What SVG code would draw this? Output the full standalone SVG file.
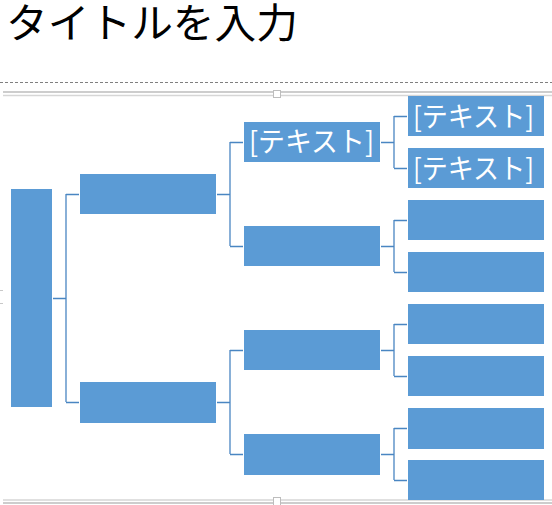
<svg xmlns="http://www.w3.org/2000/svg" width="552" height="505" viewBox="0 0 552 505">
<style>
.box{fill:#5B9BD5}
.t{font-family:"Noto Sans CJK JP","Noto Sans",sans-serif;fill:#fff;font-size:28px}
.c{stroke:#4A86C2;stroke-width:1.3;fill:none}
.fr1{stroke:#BDBDBD;stroke-width:1.5}
.fr2{stroke:#D6D6D6;stroke-width:1.5}
</style>
<rect width="552" height="505" fill="#fff"/>
<text x="6" y="37.5" font-family="'Noto Sans CJK JP',sans-serif" font-size="41" fill="#000" textLength="292" lengthAdjust="spacingAndGlyphs">タイトルを入力</text>
<line x1="0" y1="82.5" x2="552" y2="82.5" stroke="#7F7F7F" stroke-width="1" stroke-dasharray="3,2"/>
<g id="frame">
<line class="fr1" x1="3" y1="92" x2="552" y2="92"/>
<line class="fr2" x1="3" y1="95.5" x2="552" y2="95.5"/>
<line class="fr2" x1="3" y1="500" x2="552" y2="500"/>
<line class="fr1" x1="3" y1="503" x2="552" y2="503"/>
<rect x="273.5" y="90.5" width="7" height="7" fill="#fff" stroke="#BDBDBD"/>
<rect x="273.5" y="497.5" width="7" height="8" fill="#fff" stroke="#BDBDBD"/>
<line x1="0" y1="290.5" x2="3" y2="290.5" stroke="#C8C8C8"/>
<line x1="0" y1="303.5" x2="3" y2="303.5" stroke="#C8C8C8"/>
</g>
<g id="connectors">
<path class="c" d="M53 298.5H66M66 194V402M66 194.5H79M66 402.5H79"/>
<path class="c" d="M217 194.5H230M230 142V246M230 142.5H243M230 246.5H243"/>
<path class="c" d="M217 402.5H230M230 350V454M230 350.5H243M230 454.5H243"/>
<path class="c" d="M381 142.5H394M394 116V168M394 116.5H407M394 168.5H407"/>
<path class="c" d="M381 246.5H394M394 220V272M394 220.5H407M394 272.5H407"/>
<path class="c" d="M381 350.5H394M394 324V376M394 324.5H407M394 376.5H407"/>
<path class="c" d="M381 454.5H394M394 428V480M394 428.5H407M394 480.5H407"/>
</g>
<g id="root"><rect class="box" x="11" y="189" width="41" height="218"/></g>
<g id="n1a"><rect class="box" x="80" y="174" width="136" height="40"/></g>
<g id="n1b"><rect class="box" x="80" y="382" width="136" height="41"/></g>
<g id="n2a"><rect class="box" x="244" y="122" width="136" height="40"/><text class="t" x="249" y="152" textLength="125" lengthAdjust="spacingAndGlyphs">[テキスト]</text></g>
<g id="n2b"><rect class="box" x="244" y="226" width="136" height="40"/></g>
<g id="n2c"><rect class="box" x="244" y="330" width="136" height="40"/></g>
<g id="n2d"><rect class="box" x="244" y="434" width="136" height="41"/></g>
<g id="n3a"><rect class="box" x="408" y="96" width="136" height="40"/><text class="t" x="413" y="127" textLength="121" lengthAdjust="spacingAndGlyphs">[テキスト]</text></g>
<g id="n3b"><rect class="box" x="408" y="148" width="136" height="40"/><text class="t" x="413" y="179" textLength="121" lengthAdjust="spacingAndGlyphs">[テキスト]</text></g>
<g id="n3c"><rect class="box" x="408" y="200" width="136" height="40"/></g>
<g id="n3d"><rect class="box" x="408" y="252" width="136" height="40"/></g>
<g id="n3e"><rect class="box" x="408" y="304" width="136" height="40"/></g>
<g id="n3f"><rect class="box" x="408" y="356" width="136" height="40"/></g>
<g id="n3g"><rect class="box" x="408" y="408" width="136" height="41"/></g>
<g id="n3h"><rect class="box" x="408" y="460" width="136" height="40"/></g>
</svg>
